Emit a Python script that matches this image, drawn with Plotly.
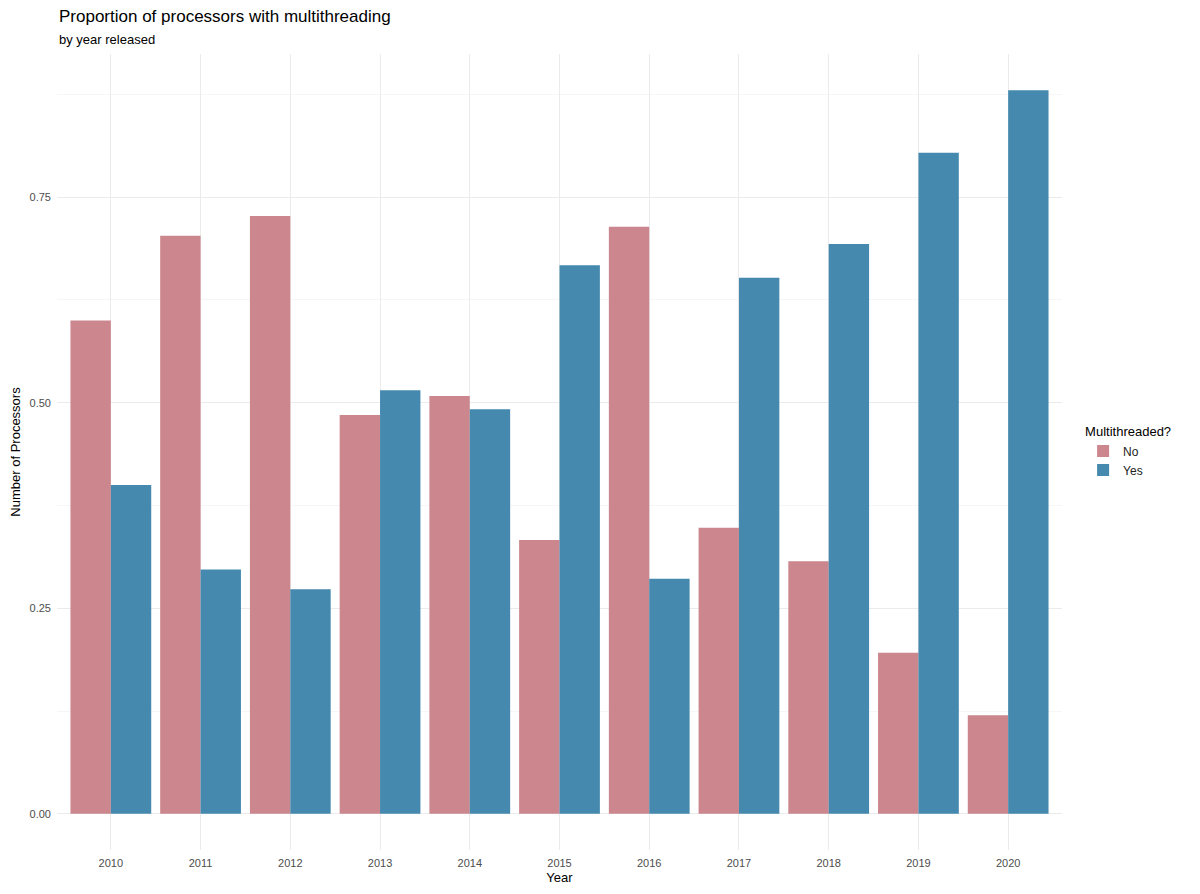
import plotly.graph_objects as go

# Proportions
years = [2010, 2011, 2012, 2013, 2014, 2015, 2016, 2017, 2018, 2019, 2020]
prop_no = [0.600, 0.703, 0.727, 0.485, 0.508, 0.333, 0.714, 0.348, 0.307, 0.196, 0.120]
prop_yes = [0.400, 0.297, 0.273, 0.515, 0.492, 0.667, 0.286, 0.652, 0.693, 0.804, 0.880]

col_no = "#CC868D"
col_yes = "#4589AF"
font = "Liberation Sans, Arial, sans-serif"

fig = go.Figure()
fig.add_trace(go.Bar(x=years, y=prop_no, name="No", marker_color=col_no,
                     marker_line_width=0))
fig.add_trace(go.Bar(x=years, y=prop_yes, name="Yes", marker_color=col_yes,
                     marker_line_width=0))

# the page puts the figure 8px in from the top-left, margins allow for that
fig.update_layout(
    width=1200, height=894,
    margin=dict(l=49, r=146, t=46, b=52),
    paper_bgcolor="white", plot_bgcolor="white",
    barmode="group", bargap=0.1, bargroupgap=0,
    font=dict(family=font, color="#000000"),
    legend=dict(
        title=dict(text="Multithreaded?", font=dict(size=13, color="#000000")),
        font=dict(size=12, color="#222222"),
        x=1.021, xanchor="left", y=0.5, yanchor="middle",
        tracegroupgap=0, itemwidth=30,
    ),
    annotations=[
        dict(text="Proportion of processors with multithreading", xref="paper", yref="paper",
             x=0, y=1.0477, xanchor="left", yanchor="middle", showarrow=False,
             font=dict(size=17, color="#000000")),
        dict(text="by year released", xref="paper", yref="paper",
             x=0, y=1.0188, xanchor="left", yanchor="middle", showarrow=False,
             font=dict(size=13, color="#000000")),
    ],
)

fig.update_xaxes(
    range=[2009.4, 2020.6], tickvals=years, ticktext=[str(y) for y in years],
    showgrid=True, gridcolor="#EBEBEB", gridwidth=1, zeroline=False, showline=False,
    ticks="", tickfont=dict(size=11, color="#4D4D4D"), ticklabelstandoff=5,
    automargin=False,
    title=dict(text="Year", font=dict(size=13, color="#000000"), standoff=4),
)
fig.update_yaxes(
    range=[-0.044, 0.924], tickvals=[0, 0.25, 0.5, 0.75], tickformat=".2f",
    showgrid=True, gridcolor="#EBEBEB", gridwidth=1, zeroline=False, showline=False,
    minor=dict(tickvals=[0.125, 0.375, 0.625, 0.875], showgrid=True,
               gridcolor="#F6F6F6", gridwidth=1, ticks=""),
    ticks="", tickfont=dict(size=11, color="#4D4D4D"), ticklabelstandoff=5,
    automargin=False,
    title=dict(text="Number of Processors", font=dict(size=13, color="#000000"), standoff=8),
)

fig.write_html("out.html")
